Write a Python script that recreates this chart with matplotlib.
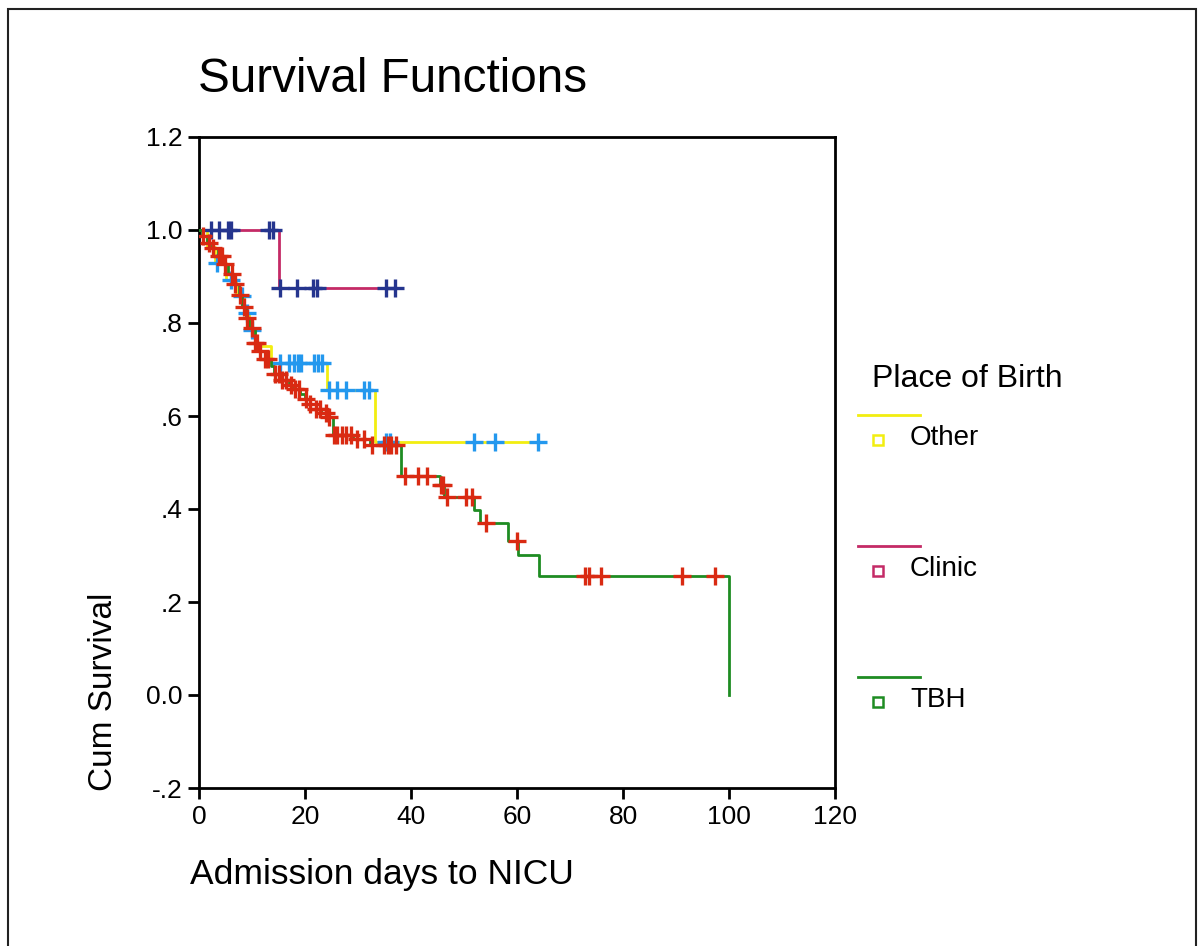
import matplotlib
matplotlib.use("Agg")
import matplotlib.pyplot as plt
import numpy as np
from matplotlib.lines import Line2D
from matplotlib.patches import Rectangle

plt.rcParams['font.family'] = ['Liberation Sans', 'DejaVu Sans']

# Kaplan-Meier steps: event times and survival after each event
other_t = [1.5, 3.0, 5.0, 7.0, 8.5, 9.5, 10.5, 13.5, 24.2, 33.2]
other_s = [0.964, 0.929, 0.893, 0.857, 0.821, 0.786, 0.75, 0.714, 0.655, 0.545]
other_cens = [3.4, 6.0, 8.2, 9.0, 10.0, 15.2, 16.9, 17.9, 18.6, 19.2, 21.7, 22.4,
              23.3, 24.5, 26.1, 27.7, 31.1, 32.1, 35.3, 36.1, 51.8, 55.8, 63.9]

clinic_t = [15.0]
clinic_s = [0.875]
clinic_cens = [2.2, 3.8, 5.4, 6.1, 13.2, 14.0, 15.2, 18.4, 21.6, 22.2, 35.3, 37.0]

tbh_t = [0.5, 1.5, 2.5, 3.5, 4.5, 5.5, 6.5, 7.5, 8.2, 8.8, 9.5, 10.5, 11.5, 12.5,
         13.5, 14.2, 15.5, 17.0, 18.0, 19.0, 20.0, 21.0, 22.0, 23.0, 24.2, 25.2,
         29.0, 32.2, 38.1, 45.4, 46.2, 51.9, 53.0, 58.3, 60.2, 64.2, 100.0]
tbh_s = [0.987, 0.973, 0.962, 0.945, 0.926, 0.905, 0.883, 0.861, 0.835, 0.811,
         0.789, 0.757, 0.74, 0.722, 0.707, 0.69, 0.678, 0.667, 0.657, 0.647,
         0.636, 0.625, 0.616, 0.607, 0.597, 0.56, 0.55, 0.537, 0.472, 0.452,
         0.425, 0.398, 0.369, 0.332, 0.301, 0.255, 0.0]
tbh_cens = [0.8, 1.8, 2.7, 3.7, 4.3, 4.9, 6.2, 6.8, 7.8, 8.4, 9.0, 10.0, 10.6, 10.9,
            11.6, 12.5, 13.1, 14.4, 15.0, 15.7, 16.5, 17.3, 18.2, 18.8, 20.1, 21.0,
            22.0, 22.9, 23.9, 24.5, 25.5, 26.1, 27.0, 27.7, 28.6, 29.9, 31.1, 32.7,
            34.9, 35.6, 36.2, 37.2, 38.9, 41.3, 43.0, 45.6, 46.0, 46.8, 50.4, 51.6,
            54.2, 60.0, 72.8, 73.5, 75.8, 91.2, 97.3]

groups = ['Other', 'Clinic', 'TBH']
line_colors = ['#f2ee10', '#c42a66', '#1e8c22']
cens_colors = ['#2398ee', '#25358e', '#d92a12']

yticks = [-0.2, 0.0, 0.2, 0.4, 0.6, 0.8, 1.0, 1.2]
ytick_labels = ['-.2', '0.0', '.2', '.4', '.6', '.8', '1.0', '1.2']
xticks = [0, 20, 40, 60, 80, 100, 120]

W, H = 1199, 946
fig = plt.figure(figsize=(W / 100, H / 100), dpi=100)
ax = fig.add_axes([199 / W, 1 - 788 / H, (835 - 199) / W, (788 - 137) / H])


def km_curve(ev_t, ev_s, cens):
    t = np.array([0.0] + list(ev_t))
    s = np.array([1.0] + list(ev_s))
    end = max(cens) if cens else t[-1]
    if end > t[-1]:
        t = np.append(t, end)
        s = np.append(s, s[-1])
    idx = np.searchsorted(t, cens, side='right') - 1
    return t, s, np.array(cens), s[idx]


curves = [(other_t, other_s, other_cens), (clinic_t, clinic_s, clinic_cens),
          (tbh_t, tbh_s, tbh_cens)]
for i, (et, es, ct) in enumerate(curves):
    t, s, cx, cy = km_curve(et, es, ct)
    ax.step(t, s, where='post', color=line_colors[i], lw=2.0, zorder=2 + 2 * i)
    ax.plot(cx, cy, ls='none', marker='+', ms=13, mew=2.4,
            color=cens_colors[i], zorder=3 + 2 * i)

ax.set_xlim(0, 120)
ax.set_ylim(-0.2, 1.2)
ax.set_xticks(xticks)
ax.set_yticks(yticks)
ax.set_yticklabels(ytick_labels)
ax.tick_params(direction='out', length=8, width=2, labelsize=19, pad=4)
for sp in ax.spines.values():
    sp.set_linewidth(2)

fig.text(198 / W, 1 - 80 / H, 'Survival Functions', fontsize=34.3,
         ha='left', va='center')
fig.text(103 / W, 1 - 692 / H, 'Cum Survival', fontsize=24, rotation=90,
         ha='center', va='center')
fig.text(190 / W, 1 - 874 / H, 'Admission days to NICU', fontsize=25.5,
         ha='left', va='center')

# legend block on the right
fig.text(872 / W, 1 - 379 / H, 'Place of Birth', fontsize=23, ha='left', va='center')
leg_y = [415, 546, 677]
for i, name in enumerate(groups):
    y0 = leg_y[i]
    fig.add_artist(Line2D([858 / W, 920 / W], [1 - y0 / H, 1 - y0 / H],
                          color=line_colors[i], lw=2))
    fig.add_artist(Line2D([878 / W], [1 - (y0 + 25) / H], marker='s', ms=7,
                          mfc='none', mec=line_colors[i], mew=1.8, ls='none'))
    fig.text(910 / W, 1 - (y0 + 23) / H, name, fontsize=20, ha='left', va='center')

# outer frame
fig.add_artist(Rectangle((8 / W, -0.02), (1196 - 8) / W, 1 - 9 / H + 0.02,
                         fill=False, ec='#222222', lw=1.5, transform=fig.transFigure))

fig.savefig('out.png', dpi=100)
